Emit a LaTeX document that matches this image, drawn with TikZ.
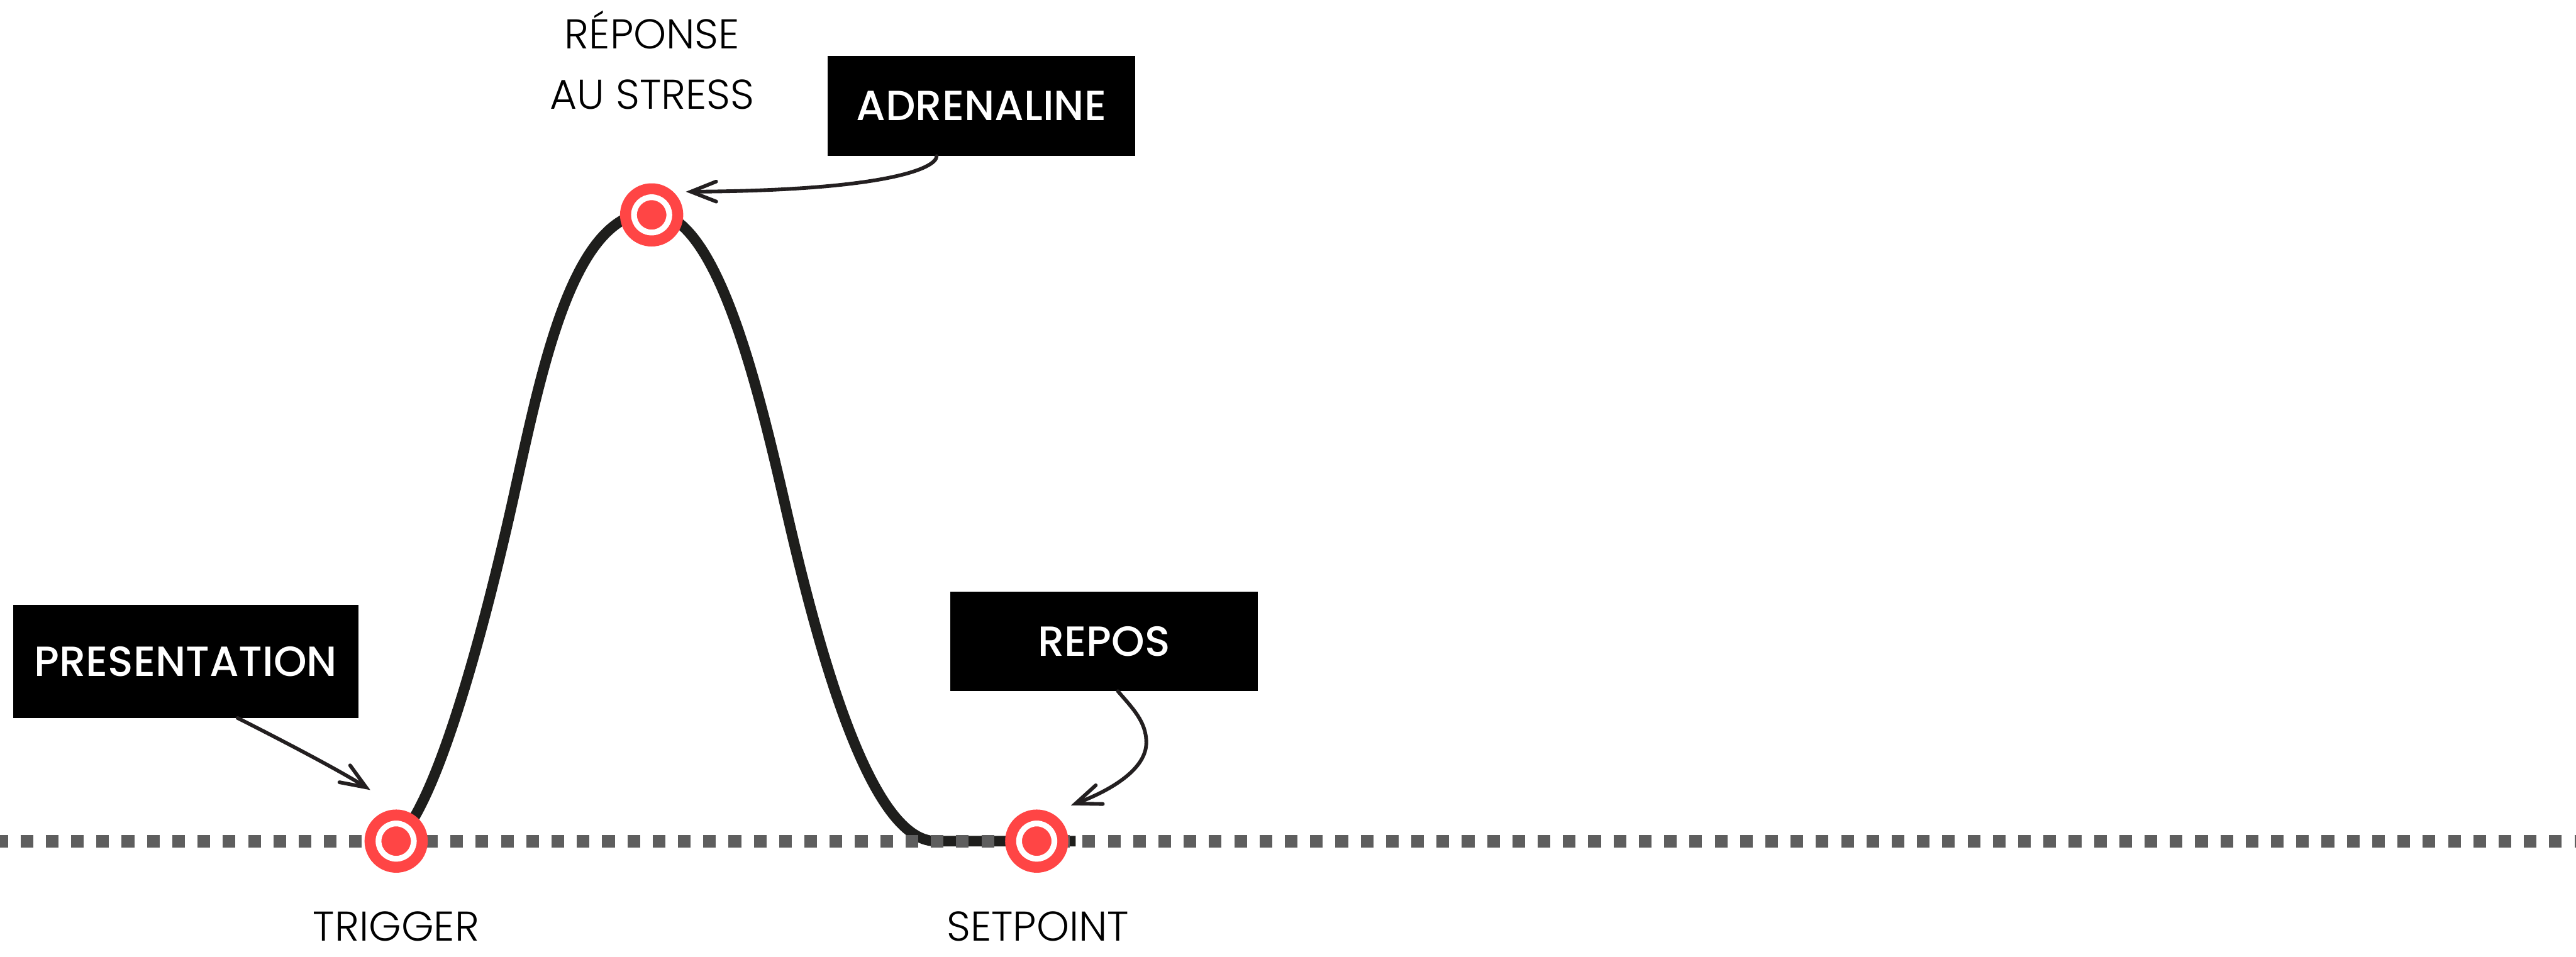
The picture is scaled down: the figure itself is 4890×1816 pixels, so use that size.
\documentclass[tikz,border=0pt]{standalone}
\usepackage{fontspec}
\setmainfont{Poppins}
\newfontfamily\poplight{Poppins Light}
\newfontfamily\popmed{Poppins Medium}
\usetikzlibrary{arrows.meta,calc}
\definecolor{redc}{HTML}{FF4545}
\definecolor{curvec}{HTML}{1E1E1C}
\definecolor{dashc}{HTML}{5E5E5E}
\definecolor{arrowc}{HTML}{231F20}
\begin{document}
\begin{tikzpicture}[x=1pt,y=-1pt,
  box/.style={fill=black,text=white,inner sep=0pt,font=\popmed\fontsize{80}{96}\selectfont},
  lbl/.style={anchor=base,inner sep=0pt,text=black,font=\poplight\fontsize{79}{96}\selectfont},
  mk/.style={circle,fill=redc,minimum size=120pt,inner sep=0pt,
    path picture={\draw[white,line width=11pt] (path picture bounding box.center) circle[radius=33.5pt];}},
  curve/.style={draw=curvec,line width=20pt,line join=round},
  dotline/.style={draw=dashc,line width=24pt,dash pattern=on 24pt off 24pt},
  arr/.style={draw=arrowc,line width=7pt,line cap=round,line join=round,
    -{Straight Barb[length=48pt,width=38pt,line cap=round]}}]
\useasboundingbox (0,0) rectangle (4890,1816);
\fill[white] (0,0) rectangle (4890,1816);

% marker positions
\coordinate (trigp) at (752,1597);
\coordinate (peakp) at (1237,408);
\coordinate (setpp) at (1968,1597);

% main curve
\draw[curve] (trigp) .. controls (830,1530) and (921,1187) .. (975,943)
  .. controls (1029,699) and (1087,403) .. (1237,403)
  .. controls (1357,403) and (1434,713) .. (1490,957)
  .. controls (1546,1201) and (1646,1597) .. (1776,1597)
  -- ($(setpp)+(74,0)$);

% dotted baseline
\coordinate (dl) at (-9,1597);
\coordinate (dr) at (4890,1597);
\draw[dotline] (dl) -- (dr);

% markers
\node[mk] (trig) at (trigp) {};
\node[mk] (peak) at (peakp) {};
\node[mk] (setp) at (setpp) {};

% labels
\node[lbl] (trigl) at (752,1787) {TRIGGER};
\node[lbl] (setl) at (1970,1787) {SETPOINT};
\node[lbl] (rep1) at (1238,92) {RÉPONSE};
\node[lbl] (rep2) at (1238,207) {AU STRESS};

% boxes
\node[box,minimum width=655pt,minimum height=215pt] (pres) at (352.5,1255.5) {PRESENTATION};
\node[box,minimum width=584pt,minimum height=190pt] (adr) at (1863,201) {ADRENALINE};
\node[box,minimum width=584pt,minimum height=189pt] (repos) at (2096,1217.5) {REPOS};

% arrows
\draw[arr] ($(pres.south)+(98.5,0)$) .. controls (520,1398) and (640,1460) .. ($(trig.center)+(-49,-97)$);
\draw[arr] ($(adr.south)+(-85,0)$) .. controls (1778,320) and (1680,362) .. ($(peak.center)+(65,-44)$);
\draw[arr] ($(repos.south)+(26,0)$) .. controls (2150,1345) and (2176,1370) .. (2176,1410)
  .. controls (2176,1460) and (2110,1500) .. ($(setp.center)+(65,-68)$);
\end{tikzpicture}
\end{document}
